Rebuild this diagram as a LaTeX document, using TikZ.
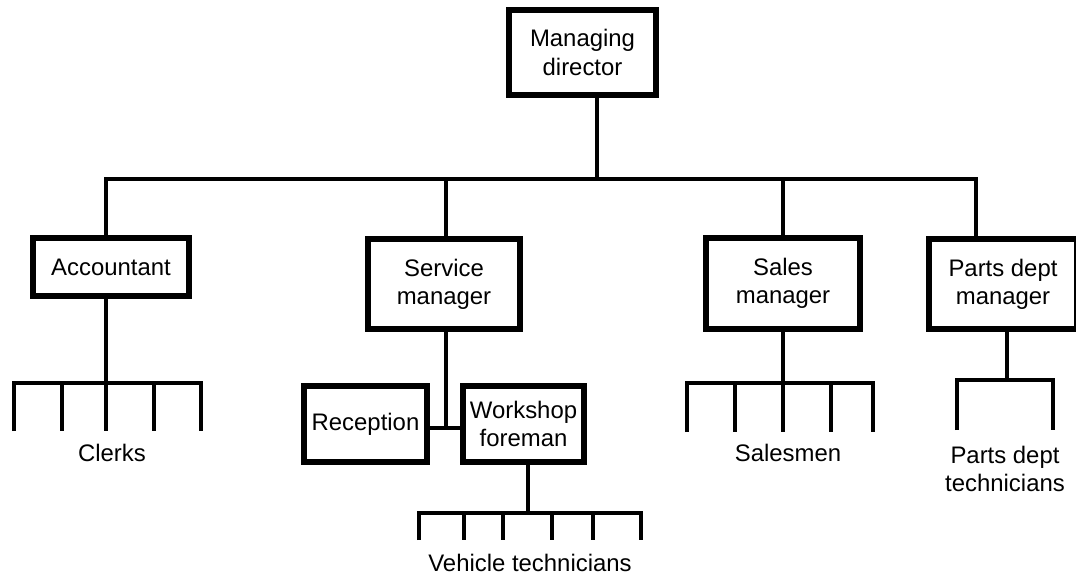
\documentclass[tikz,border=0pt]{standalone}
\usepackage{fontspec}
\setmainfont{Liberation Sans}
\usetikzlibrary{calc}
\tikzset{
    post/.style  = {draw, line width=3.8pt, fill=white, align=center, inner sep=0pt,
                    font=\fontsize{17}{20}\selectfont},
    wire/.style  = {line width=3.1pt},
    staff/.style = {align=center, inner sep=0pt, font=\fontsize{17}{20}\selectfont}
}

\begin{document}
\begin{tikzpicture}[x=0.025cm, y=-0.025cm]
    \useasboundingbox (0,0) rectangle (1076,575);

    % ---------- top of the tree ----------
    \node[post, minimum width=3.68cm, minimum height=2.13cm] (md) at (582.5,52.5)
        {Managing\\director};

    % =================================================
    % 1. Managers under the managing director
    % =================================================
    \node[post, minimum width=3.90cm, minimum height=1.45cm] (acc) at (111,267)
        {Accountant};
    \node[post, minimum width=3.80cm, minimum height=2.25cm] (service) at (444,284)
        {Service\\manager};
    \node[post, minimum width=3.85cm, minimum height=2.28cm] (sales) at (783,283.5)
        {Sales\\manager};
    \node[post, minimum width=3.70cm, minimum height=2.25cm] (parts) at (1003,284)
        {Parts dept\\manager};

    % bus from the managing director to the managers
    \coordinate (mdfoot) at (597,179);
    \coordinate (busA)   at (106,179);
    \coordinate (busS)   at (446,179);
    \coordinate (busM)   at (783,179);
    \coordinate (busP)   at (976,179);

    \draw[wire] (md.south -| mdfoot) -- (mdfoot);
    \draw[wire] (busA |- acc.north) -- (busA) -- (busP) -- (busP |- parts.north);
    \draw[wire] (busS) -- (busS |- service.north);
    \draw[wire] (busM) -- (busM |- sales.north);

    % =================================================
    % 2. Reception and workshop under the service manager
    % =================================================
    \node[post, minimum width=3.08cm, minimum height=1.90cm] (reception) at (365.5,424)
        {Reception};
    \node[post, minimum width=3.03cm, minimum height=1.90cm] (workshop) at (523.5,424)
        {Workshop\\foreman};

    \coordinate (srvfoot) at (446,428);
    \draw[wire] (service.south -| srvfoot) -- (srvfoot);
    \draw[wire] (reception.east |- srvfoot) -- (workshop.west |- srvfoot);

    % =================================================
    % 3. Staff combs
    % =================================================
    % clerks
    \coordinate (clerksbar) at (106,383);
    \draw[wire] (acc.south -| clerksbar) -- (clerksbar);
    \draw[wire] (14,431) |- (201,383) -- (201,431);
    \foreach \t in {62,106,154} \draw[wire] (\t,383) -- (\t,431);
    \node[staff] (clerks) at (112,453) {Clerks};

    % vehicle technicians
    \coordinate (techbar) at (528,513);
    \draw[wire] (workshop.south -| techbar) -- (techbar);
    \draw[wire] (419,540) |- (641,513) -- (641,540);
    \foreach \t in {464,503,552,593} \draw[wire] (\t,513) -- (\t,540);
    \node[staff] (vehtech) at (530,563) {Vehicle technicians};

    % salesmen
    \coordinate (salesbar) at (783,383);
    \draw[wire] (sales.south -| salesbar) -- (salesbar);
    \draw[wire] (687,432) |- (873,383) -- (873,432);
    \foreach \t in {735,783,831} \draw[wire] (\t,383) -- (\t,432);
    \node[staff] (salesmen) at (788,453) {Salesmen};

    % parts dept technicians
    \coordinate (partsbar) at (1007,380);
    \draw[wire] (parts.south -| partsbar) -- (partsbar);
    \draw[wire] (957,430) |- (1053,380) -- (1053,430);
    \node[staff] (partstech) at (1005,469) {Parts dept\\technicians};

\end{tikzpicture}
\end{document}
